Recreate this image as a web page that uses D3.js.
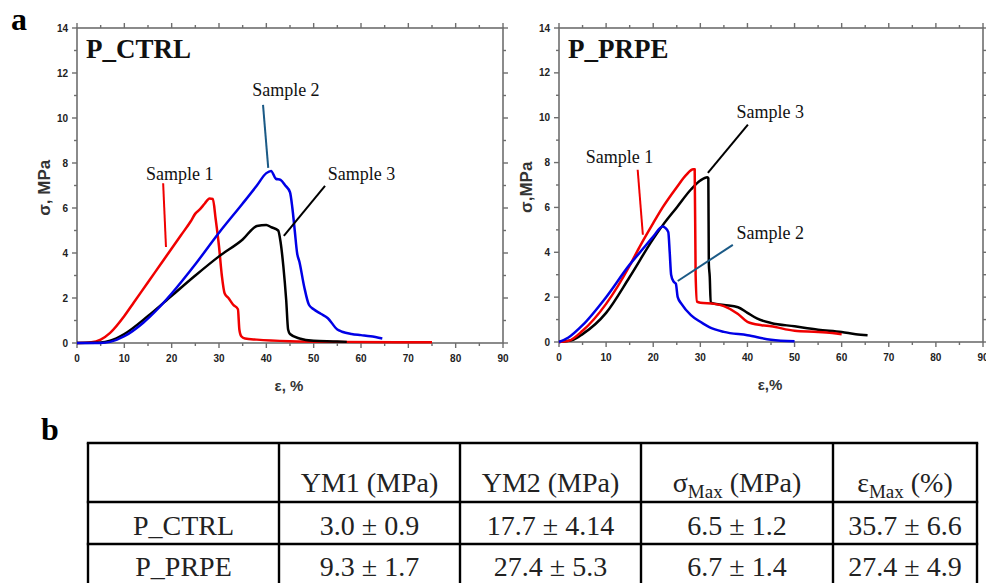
<!DOCTYPE html>
<html>
<head>
<meta charset="utf-8">
<script src="https://cdn.jsdelivr.net/npm/d3@7/dist/d3.min.js"></script>
<style>
  body { margin: 0; background: #fff; }
  svg { display: block; }
</style>
</head>
<body>
<script>
// ---- data (strain %, stress MPa) ----
const ctrlSample1 = [[0,0],[3,0.03],[5,0.15],[7,0.45],[10,1.2],[12,1.8],[15,2.7],[18,3.6],[20,4.2],[22,4.8],[24,5.4],[25,5.75],[26,5.95],[27,6.2],[28,6.42],[28.7,6.4],[29.3,5.5],[30,4.3],[30.6,3.0],[31.2,2.2],[32,2.0],[33,1.7],[34,1.5],[34.3,0.6],[34.7,0.3],[35.5,0.2],[38,0.15],[45,0.08],[55,0.05],[75,0.03]];
const ctrlSample2 = [[0,0],[5,0],[7,0.05],[10,0.3],[14,0.9],[17,1.5],[20,2.2],[25,3.5],[30,4.9],[35,6.2],[38,7.0],[40,7.55],[41,7.65],[42,7.3],[43,7.25],[44,7.0],[45,6.7],[45.5,6.0],[46,5.0],[46.5,4.0],[47,3.6],[48,2.5],[49,1.7],[50,1.5],[51.5,1.3],[53,1.1],[55,0.6],[56,0.5],[58,0.4],[60,0.35],[62,0.3],[64.5,0.2]];
const ctrlSample3 = [[0,0],[5,0.02],[7,0.1],[10,0.4],[15,1.2],[20,2.1],[25,3.0],[30,3.85],[35,4.6],[38,5.2],[40,5.25],[41,5.15],[42.5,5.0],[43,4.5],[43.6,3.4],[44.2,1.9],[44.6,0.6],[45,0.4],[47,0.2],[50,0.1],[55,0.07],[57,0.05]];

const prpeSample1 = [[0,0],[2,0.05],[5,0.5],[10,1.7],[15,3.4],[17,4.2],[20,5.3],[22,6.0],[25,6.9],[27,7.45],[28.5,7.7],[28.8,7.7],[29,3.0],[29.3,1.8],[30,1.75],[33,1.7],[35,1.6],[38,1.25],[40,0.9],[43,0.75],[45,0.7],[50,0.5],[55,0.45],[58,0.4],[60,0.35]];
const prpeSample2 = [[0,0],[2,0.2],[5,0.75],[10,2.0],[15,3.45],[18,4.2],[20,4.7],[22,5.15],[22.5,5.1],[23.2,4.9],[23.5,4.0],[23.8,3.0],[24.3,2.7],[24.8,2.6],[25.2,2.0],[26,1.7],[28,1.2],[30,0.9],[32,0.65],[35,0.45],[40,0.3],[45,0.1],[50,0.03]];
const prpeSample3 = [[0,0],[3,0.1],[5,0.35],[10,1.3],[15,2.9],[20,4.6],[22,5.2],[25,6.0],[28,6.8],[30,7.2],[31.5,7.35],[31.7,7.3],[31.8,3.5],[32,2.9],[32.2,1.75],[35,1.65],[38,1.55],[40,1.3],[42,1.05],[45,0.85],[50,0.7],[55,0.55],[60,0.45],[63,0.35],[65.5,0.3]];

const xTicks = [0, 10, 20, 30, 40, 50, 60, 70, 80, 90];
const yTicks = [0, 2, 4, 6, 8, 10, 12, 14];

const tableHeader = ["", "YM1 (MPa)", "YM2 (MPa)", "σ|Max| (MPa)", "ε|Max| (%)"];
const tableGroups = ["P_CTRL", "P_PRPE"];
const tableValues = [
  ["3.0 ± 0.9", "17.7 ± 4.14", "6.5 ± 1.2", "35.7 ± 6.6"],
  ["9.3 ± 1.7", "27.4 ± 5.3", "6.7 ± 1.4", "27.4 ± 4.9"]
];

// ---- layout ----
const W = 986, H = 583;
const sans = "'Liberation Sans', Arial, sans-serif";
const serif = "'Liberation Serif', 'Times New Roman', serif";
const red = "#f00000", blue = "#0000e6", black = "#000", teal = "#1b5a86";

const svg = d3.select("body").append("svg").attr("width", W).attr("height", H);
svg.append("rect").attr("width", W).attr("height", H).attr("fill", "#fff");

const panels = [
  {
    title: "P_CTRL", left: 77, right: 503, top: 28, bottom: 343,
    ytitle: "σ, MPa", xtitle: "ε, %",
    series: [[ctrlSample1, red], [ctrlSample3, black], [ctrlSample2, blue]],
    notes: [
      {text: "Sample 1", at: [14.6, 7.24], line: [[18.2, 7.1], [18.8, 4.27]], color: red},
      {text: "Sample 2", at: [37.0, 11.0], line: [[39.3, 10.58], [40.4, 7.78]], color: teal},
      {text: "Sample 3", at: [53.0, 7.24], line: [[52.4, 6.98], [43.7, 4.76]], color: black}
    ]
  },
  {
    title: "P_PRPE", left: 559, right: 983, top: 28, bottom: 342,
    ytitle: "σ,MPa", xtitle: "ε,%",
    series: [[prpeSample3, black], [prpeSample1, red], [prpeSample2, blue]],
    notes: [
      {text: "Sample 1", at: [5.7, 8.0], line: [[16.7, 7.68], [17.8, 4.78]], color: red},
      {text: "Sample 2", at: [37.7, 4.6], line: [[36.9, 4.33], [25.2, 2.72]], color: teal},
      {text: "Sample 3", at: [37.7, 10.0], line: [[40.1, 9.69], [31.6, 7.54]], color: black}
    ]
  }
];

panels.forEach(p => {
  const x = d3.scaleLinear().domain([0, 90]).range([p.left, p.right]);
  const y = d3.scaleLinear().domain([0, 14]).range([p.bottom, p.top]);
  const g = svg.append("g");
  const axisCol = "#6e6e6e";

  // ticks on all four sides, pointing outward
  const minorX = d3.range(0, 91, 5), minorY = d3.range(0, 15, 1);
  const tick = (x1, y1, x2, y2) => g.append("line")
    .attr("x1", x1).attr("y1", y1).attr("x2", x2).attr("y2", y2)
    .attr("stroke", axisCol).attr("stroke-width", 1.4);
  minorX.forEach(v => {
    const len = v % 10 === 0 ? 5 : 3;
    tick(x(v), p.bottom, x(v), p.bottom + len);
    tick(x(v), p.top, x(v), p.top - len);
  });
  minorY.forEach(v => {
    const len = v % 2 === 0 ? 5 : 3;
    tick(p.left, y(v), p.left - len, y(v));
    tick(p.right, y(v), p.right + len, y(v));
  });

  g.append("rect")
    .attr("x", p.left).attr("y", p.top)
    .attr("width", p.right - p.left).attr("height", p.bottom - p.top)
    .attr("fill", "none").attr("stroke", axisCol).attr("stroke-width", 1.6);

  g.selectAll(".xl").data(xTicks).join("text")
    .attr("x", d => x(d)).attr("y", p.bottom + 19)
    .attr("text-anchor", "middle")
    .attr("font-family", sans).attr("font-weight", "bold").attr("font-size", 10)
    .attr("fill", "#222").text(d => d);

  g.selectAll(".yl").data(yTicks).join("text")
    .attr("x", p.left - 9).attr("y", d => y(d) + 3.5)
    .attr("text-anchor", "end")
    .attr("font-family", sans).attr("font-weight", "bold").attr("font-size", 10)
    .attr("fill", "#222").text(d => d);

  g.append("text")
    .attr("x", (p.left + p.right) / 2 - 1).attr("y", p.bottom + 48)
    .attr("text-anchor", "middle")
    .attr("font-family", sans).attr("font-weight", "bold").attr("font-size", 15)
    .attr("fill", "#333").text(p.xtitle);

  g.append("text")
    .attr("transform", `translate(${p.left - 27},${y(6.9)}) rotate(-90)`)
    .attr("text-anchor", "middle")
    .attr("font-family", sans).attr("font-weight", "bold").attr("font-size", 17)
    .attr("fill", "#333").text(p.ytitle);

  const line = d3.line().curve(d3.curveMonotoneX).x(d => x(d[0])).y(d => y(d[1]));
  p.series.forEach(([pts, col]) => {
    g.append("path").datum(pts)
      .attr("d", line)
      .attr("fill", "none").attr("stroke", col)
      .attr("stroke-width", 2.5).attr("stroke-linejoin", "round");
  });

  p.notes.forEach(n => {
    g.append("line")
      .attr("x1", x(n.line[0][0])).attr("y1", y(n.line[0][1]))
      .attr("x2", x(n.line[1][0])).attr("y2", y(n.line[1][1]))
      .attr("stroke", n.color).attr("stroke-width", 2);
    g.append("text")
      .attr("x", x(n.at[0])).attr("y", y(n.at[1]))
      .attr("font-family", serif).attr("font-size", 18)
      .attr("fill", "#111").text(n.text);
  });

  g.append("text")
    .attr("x", p.left + 9).attr("y", p.top + 30)
    .attr("font-family", serif).attr("font-weight", "bold").attr("font-size", 27)
    .attr("fill", "#111").text(p.title);
});

// panel letters
svg.append("text").attr("x", 11).attr("y", 30)
  .attr("font-family", serif).attr("font-weight", "bold").attr("font-size", 32)
  .text("a");
svg.append("text").attr("x", 41).attr("y", 440)
  .attr("font-family", serif).attr("font-weight", "bold").attr("font-size", 32)
  .text("b");

// ---- table ----
const colEdges = [88, 279, 460, 641, 833, 977];
const rowEdges = [443, 502, 544, 585];
const tg = svg.append("g");
const rows = [tableHeader].concat(tableGroups.map((gname, i) => [gname].concat(tableValues[i])));

rows.forEach((row, r) => {
  const baseline = r === 0 ? rowEdges[1] - 10 : rowEdges[r + 1] - 9;
  row.forEach((cell, c) => {
    if (!cell) return;
    const t = tg.append("text")
      .attr("x", (colEdges[c] + colEdges[c + 1]) / 2).attr("y", baseline)
      .attr("text-anchor", "middle")
      .attr("font-family", serif).attr("font-size", 28).attr("fill", "#222");
    const parts = cell.split("|");
    if (parts.length === 3) {
      t.append("tspan").text(parts[0]);
      t.append("tspan").attr("font-size", 19).attr("dy", 6).text(parts[1]);
      t.append("tspan").attr("dy", -6).text(parts[2]);
    } else {
      t.text(cell);
    }
  });
});

colEdges.forEach(cx => {
  tg.append("line").attr("x1", cx).attr("x2", cx)
    .attr("y1", rowEdges[0]).attr("y2", rowEdges[rowEdges.length - 1])
    .attr("stroke", "#000").attr("stroke-width", 2.4);
});
rowEdges.forEach(ry => {
  tg.append("line").attr("x1", colEdges[0] - 1.2).attr("x2", colEdges[colEdges.length - 1] + 1.2)
    .attr("y1", ry).attr("y2", ry)
    .attr("stroke", "#000").attr("stroke-width", 2.4);
});
</script>
</body>
</html>
